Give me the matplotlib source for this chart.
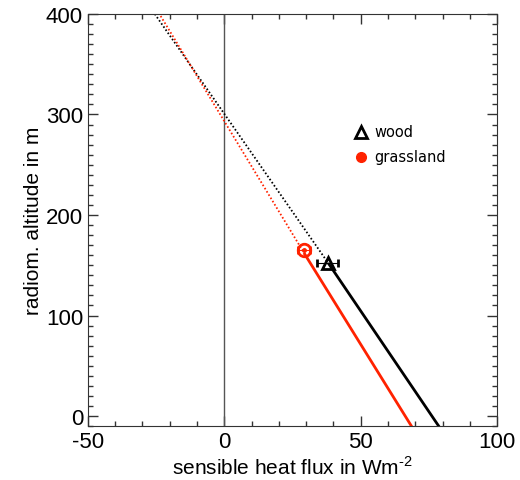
import matplotlib
matplotlib.use('Agg')
import matplotlib.pyplot as plt
from matplotlib.ticker import MultipleLocator

plt.rcParams['font.family'] = ['Liberation Sans', 'DejaVu Sans']
plt.rcParams['axes.unicode_minus'] = False
plt.rcParams['mathtext.fontset'] = 'custom'
plt.rcParams['mathtext.rm'] = 'Liberation Sans'

# profile lines: [below ground, measurement height, top]
wood_flux = [78.6, 38.4, -25.5]
wood_alt = [-10, 151, 400]
grass_flux = [68.6, 29.5, -23.8]
grass_alt = [-10, 161, 400]

# measured points with horizontal error
wood_pt = (37.9, 152)
wood_err = 3.95
grass_pt = (29.2, 165)
grass_err = 2.3

red = '#ff2200'

fig = plt.figure(figsize=(5.2, 4.81), dpi=100)
ax = fig.add_axes([0.169, 0.112, 0.787, 0.857])

ax.axvline(0, color='#555555', lw=1)

ax.plot(wood_flux[:2], wood_alt[:2], color='black', lw=2)
ax.plot(wood_flux[1:], wood_alt[1:], color='black', lw=1.3, dashes=(0.9, 1.2))
ax.plot(grass_flux[:2], grass_alt[:2], color=red, lw=2)
ax.plot(grass_flux[1:], grass_alt[1:], color=red, lw=1.3, dashes=(0.9, 1.2))

ax.errorbar(wood_pt[0], wood_pt[1], xerr=wood_err, fmt='^', color='black',
            ms=9, mfc='none', mew=2, elinewidth=0.8, capsize=3, capthick=0.8)
ax.errorbar(grass_pt[0], grass_pt[1], xerr=grass_err, fmt='o', color=red,
            ms=9, mfc='none', mew=2, elinewidth=0.8, capsize=3, capthick=0.8)
ax.plot(grass_pt[0], grass_pt[1], 'o', color=red, ms=2.5)

# legend drawn as symbols + text
ax.plot(50, 283, '^', color='black', ms=8, mfc='none', mew=2)
ax.text(55, 283, 'wood', fontsize=10.5, family='DejaVu Sans', va='center')
ax.plot(50, 258, 'o', color=red, ms=7)
ax.text(55, 258, 'grassland', fontsize=10.5, family='DejaVu Sans', va='center')

ax.set_xlim(-50, 100)
ax.set_ylim(-10, 400)
ax.xaxis.set_major_locator(MultipleLocator(50))
ax.xaxis.set_minor_locator(MultipleLocator(10))
ax.yaxis.set_major_locator(MultipleLocator(100))
ax.yaxis.set_minor_locator(MultipleLocator(10))
ax.tick_params(which='both', direction='in', top=True, right=True,
               color='#333333', labelsize=16)
ax.tick_params(which='major', length=7, width=1)
ax.tick_params(which='minor', length=3.5, width=1)
for s in ax.spines.values():
    s.set_color('#333333')

ax.set_xlabel('sensible heat flux in Wm$^{\\text{-2}}$', fontsize=15, labelpad=2)
ax.set_ylabel('radiom. altitude in m', fontsize=15, labelpad=2)

fig.savefig('out.png', dpi=100)
